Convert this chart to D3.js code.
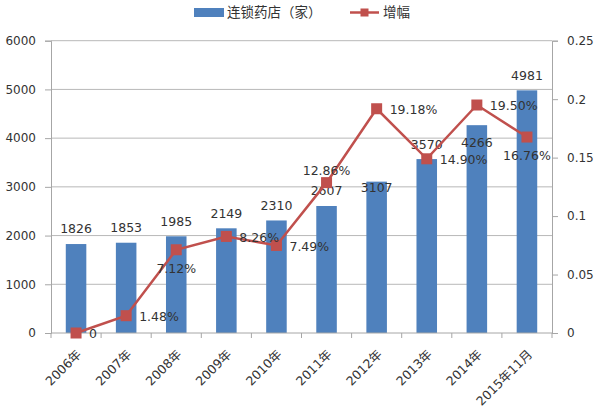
<!DOCTYPE html>
<html><head><meta charset="utf-8">
<script src="https://cdn.jsdelivr.net/npm/d3@7"></script>
<style>
body{margin:0;background:#fff;}
text{font-family:"DejaVu Sans","Noto Sans CJK SC",sans-serif;}
</style></head>
<body><svg id="c" width="600" height="414"></svg>
<script>
const categories = ["2006年","2007年","2008年","2009年","2010年","2011年","2012年","2013年","2014年","2015年11月"];
const stores = [1826,1853,1985,2149,2310,2607,3107,3570,4266,4981];
const growth = [0,0.0148,0.0712,0.0826,0.0749,0.1286,0.1918,0.1490,0.1950,0.1676];
const growthLabels = ["0","1.48%","7.12%","8.26%","7.49%","12.86%","19.18%","14.90%","19.50%","16.76%"];
const leftTicks = [0,1000,2000,3000,4000,5000,6000];
const rightTicks = [0,0.05,0.1,0.15,0.2,0.25];
const rightTickLabels = ["0","0.05","0.1","0.15","0.2","0.25"];
// label placement (style)
const growthLabelPos = ["right","right","below","right","right","above","right","right","right","below"];
const barLabelOffset = [-15,-15,-15,-15,-15,-15,6,-14,17,-15];

const svg = d3.select("#c");
const m = {l:51, r:552, t:40.7, b:333};
const x = d3.scaleBand().domain(categories).range([m.l, m.r]).paddingInner(0.59).paddingOuter(0.295);
const xb = d3.scaleBand().domain(categories).range([m.l, m.r]);
const y = d3.scaleLinear().domain([0,6000]).range([m.b, m.t]);
const y2 = d3.scaleLinear().domain([0,0.25]).range([m.b, m.t]);
const txt = "#333";
const blue = "#4F81BD", red = "#C0504D";

// gridlines
svg.append("g").selectAll("line").data(leftTicks.filter(d=>d>0)).join("line")
  .attr("x1", m.l).attr("x2", m.r).attr("y1", d=>y(d)).attr("y2", d=>y(d))
  .attr("stroke", "#B8B8B8").attr("stroke-width", 1);

// left axis
const gl = svg.append("g").attr("transform", `translate(${m.l},0)`)
  .call(d3.axisLeft(y).tickValues(leftTicks).tickFormat(d3.format("d")).tickSize(6).tickPadding(9));
gl.select(".domain").attr("stroke", "#A6A6A6");
gl.selectAll(".tick line").attr("stroke", "#A6A6A6");
gl.selectAll("text").attr("fill", txt).style("font-size","12px").style("font-family","DejaVu Sans");

// right axis
const gr = svg.append("g").attr("transform", `translate(${m.r},0)`)
  .call(d3.axisRight(y2).tickValues(rightTicks).tickFormat((d,i)=>rightTickLabels[i]).tickSize(6).tickPadding(9));
gr.select(".domain").attr("stroke", "#A6A6A6");
gr.selectAll(".tick line").attr("stroke", "#A6A6A6");
gr.selectAll("text").attr("fill", txt).style("font-size","12px").style("font-family","DejaVu Sans");

// bars
svg.append("g").selectAll("rect").data(stores).join("rect")
  .attr("x", (d,i)=>x(categories[i])).attr("width", x.bandwidth())
  .attr("y", d=>y(d)).attr("height", d=>m.b - y(d))
  .attr("fill", blue);

// x axis
const bounds = categories.map(c=>xb(c)).concat([m.r]);
svg.append("g").selectAll("line").data(bounds).join("line")
  .attr("x1", d=>d).attr("x2", d=>d).attr("y1", m.b).attr("y2", m.b+5)
  .attr("stroke", "#A6A6A6");
svg.append("line").attr("x1", m.l).attr("x2", m.r).attr("y1", m.b).attr("y2", m.b)
  .attr("stroke", "#A6A6A6");
svg.append("g").selectAll("text").data(categories).join("text")
  .attr("transform", d=>`translate(${xb(d)+xb.bandwidth()/2+3},${m.b+19}) rotate(-45)`)
  .attr("text-anchor","end").attr("dy","0.35em")
  .attr("fill", txt).style("font-size","12.5px")
  .style("font-family","DejaVu Sans, Noto Sans CJK SC")
  .text(d=>d);

// bar labels
svg.append("g").selectAll("text").data(stores).join("text")
  .attr("x", (d,i)=>xb(categories[i])+xb.bandwidth()/2)
  .attr("y", (d,i)=>y(d)+barLabelOffset[i])
  .attr("dy","0.35em").attr("text-anchor","middle")
  .attr("fill", txt).style("font-size","12.5px").text(d=>d);

// line
const cx = i=>xb(categories[i])+xb.bandwidth()/2;
const line = d3.line().x((d,i)=>cx(i)).y(d=>y2(d));
svg.append("path").datum(growth).attr("d", line)
  .attr("fill","none").attr("stroke", red).attr("stroke-width", 2.5);
svg.append("g").selectAll("rect").data(growth).join("rect")
  .attr("x",(d,i)=>cx(i)-5.5).attr("y", d=>y2(d)-5.5)
  .attr("width", 11).attr("height", 11).attr("fill", red);

// line labels
svg.append("g").selectAll("text").data(growth).join("text")
  .attr("x", (d,i)=>{const p=growthLabelPos[i]; return p==="right"? cx(i)+13 : cx(i);})
  .attr("y", (d,i)=>{const p=growthLabelPos[i]; return y2(d) + (p==="below"?19:(p==="above"?-12:1));})
  .attr("dy","0.35em")
  .attr("text-anchor", (d,i)=>growthLabelPos[i]==="right"?"start":"middle")
  .attr("fill", txt).style("font-size","12.5px")
  .text((d,i)=>growthLabels[i]);

// legend
const lg = svg.append("g");
lg.append("rect").attr("x",194).attr("y",8).attr("width",30).attr("height",9).attr("fill", blue);
lg.append("text").attr("x",227).attr("y",12.5).attr("dy","0.35em").attr("fill",txt)
  .style("font-size","13.5px").style("font-family","Noto Sans CJK SC").text("连锁药店（家）");
lg.append("line").attr("x1",350).attr("x2",379).attr("y1",12.5).attr("y2",12.5).attr("stroke",red).attr("stroke-width",2.5);
lg.append("rect").attr("x",360.5).attr("y",8.5).attr("width",8).attr("height",8).attr("fill",red);
lg.append("text").attr("x",383).attr("y",12.5).attr("dy","0.35em").attr("fill",txt)
  .style("font-size","13.5px").style("font-family","Noto Sans CJK SC").text("增幅");
</script></body></html>
